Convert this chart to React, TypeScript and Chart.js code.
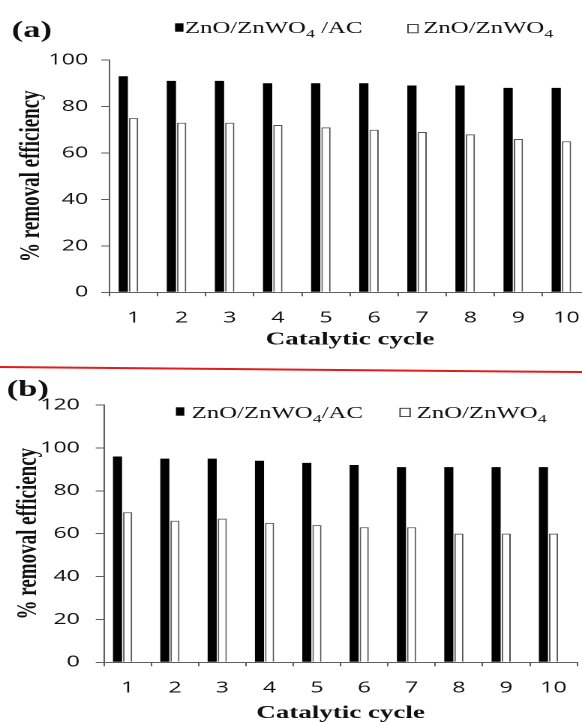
import React, { useEffect, useRef } from 'react';
import { Chart, registerables } from 'chart.js';

Chart.register(...registerables);

// ---- data ----
const cycles = ['1', '2', '3', '4', '5', '6', '7', '8', '9', '10'];
const seriesNamesA = ['ZnO/ZnWO₄ /AC', 'ZnO/ZnWO₄'];
const seriesNamesB = ['ZnO/ZnWO₄/AC', 'ZnO/ZnWO₄'];
const compositeA = [93, 91, 91, 90, 90, 90, 89, 89, 88, 88];
const binaryA = [75, 73, 73, 72, 71, 70, 69, 68, 66, 65];
const compositeB = [96, 95, 95, 94, 93, 92, 91, 91, 91, 91];
const binaryB = [70, 66, 67, 65, 64, 63, 63, 60, 60, 60];
const yMaxA = 100;
const yMaxB = 120;
const yStep = 20;
const xTitle = 'Catalytic cycle';
const yTitle = '% removal efficiency';
const panelLetters = ['(a)', '(b)'];

// the reference figure is stretched horizontally
const STRETCH = 1.5;
const AXIS = '#5e5e5e';
const SERIF = '"Liberation Serif", "Times New Roman", serif';
const SANS = '"Open Sans", "Noto Sans", sans-serif';

type Spec = {
  letter: string;
  names: string[];
  composite: number[];
  binary: number[];
  yMax: number;
  top: number;
  width: number;
  height: number;
  padTop: number;
  padRight: number;
  yWidth: number;
  xHeight: number;
  yTickPad: number;
  yTitlePad: number;
  xTitlePad: number;
  letterX: number;
  letterY: number;
  box1: [number, number, number, number];
  text1: [number, number];
  box2: [number, number, number, number];
  text2: [number, number];
};

function drawLabel(ctx: CanvasRenderingContext2D, text: string, x: number, y: number) {
  const parts = text.split('₄');
  let cx = x;
  parts.forEach((p, i) => {
    ctx.font = `16.5px ${SERIF}`;
    ctx.fillText(p, cx, y);
    cx += ctx.measureText(p).width;
    if (i < parts.length - 1) {
      ctx.font = `12px ${SERIF}`;
      ctx.fillText('4', cx, y + 4.5);
      cx += ctx.measureText('4').width;
    }
  });
}

function Panel({ spec }: { spec: Spec }) {
  const ref = useRef<HTMLCanvasElement | null>(null);
  useEffect(() => {
    if (!ref.current) return;
    const overlay = {
      id: 'overlay',
      afterDraw(chart: any) {
        const ctx: CanvasRenderingContext2D = chart.ctx;
        ctx.save();
        ctx.fillStyle = '#111';
        ctx.textBaseline = 'alphabetic';
        ctx.textAlign = 'left';
        ctx.font = `bold 23px ${SERIF}`;
        ctx.fillText(spec.letter, spec.letterX, spec.letterY);
        // legend
        const [bx, by, bw, bh] = spec.box1;
        ctx.fillStyle = '#000';
        ctx.fillRect(bx, by, bw, bh);
        ctx.fillStyle = '#111';
        drawLabel(ctx, spec.names[0], spec.text1[0], spec.text1[1]);
        const [wx, wy, ww, wh] = spec.box2;
        ctx.fillStyle = '#fff';
        ctx.fillRect(wx, wy, ww, wh);
        ctx.strokeStyle = '#333';
        ctx.lineWidth = 0.9;
        ctx.strokeRect(wx, wy, ww, wh);
        ctx.fillStyle = '#111';
        drawLabel(ctx, spec.names[1], spec.text2[0], spec.text2[1]);
        ctx.restore();
      },
    };
    const chart = new Chart(ref.current, {
      type: 'bar',
      data: {
        labels: cycles,
        datasets: [
          {
            label: spec.names[0],
            data: spec.composite,
            backgroundColor: '#000',
            borderColor: '#000',
            borderWidth: 0,
          },
          {
            label: spec.names[1],
            data: spec.binary,
            backgroundColor: '#fff',
            borderColor: '#555',
            borderWidth: 1,
          },
          {
            label: '',
            data: cycles.map(() => null),
            backgroundColor: 'rgba(0,0,0,0)',
          },
        ],
      },
      plugins: [overlay],
      options: {
        animation: false,
        responsive: true,
        maintainAspectRatio: false,
        devicePixelRatio: 2,
        datasets: { bar: { categoryPercentage: 0.64, barPercentage: 0.9 } },
        layout: { padding: { top: spec.padTop, right: spec.padRight, left: 0, bottom: 0 } },
        plugins: { legend: { display: false }, tooltip: { enabled: false }, title: { display: false } },
        scales: {
          x: {
            type: 'category',
            offset: true,
            afterFit: (s: any) => { s.height = spec.xHeight; },
            grid: { display: true, drawOnChartArea: false, drawTicks: true, tickLength: 4, offset: true, color: AXIS, lineWidth: 1 },
            border: { display: true, color: AXIS, width: 1 },
            ticks: { color: '#111', font: { family: SANS, size: 15.5 }, padding: 12.5, maxRotation: 0, autoSkip: false },
            title: {
              display: true,
              text: xTitle,
              color: '#111',
              font: { family: SERIF, size: 18, weight: 'bold', lineHeight: 1.2 },
              padding: { top: 0, bottom: spec.xTitlePad },
            },
          },
          y: {
            min: 0,
            max: spec.yMax,
            afterFit: (s: any) => { s.width = spec.yWidth; },
            grid: { display: true, drawOnChartArea: false, drawTicks: true, tickLength: 5.5, color: AXIS, lineWidth: 1 },
            border: { display: true, color: AXIS, width: 1 },
            ticks: { stepSize: yStep, color: '#111', font: { family: SANS, size: 15.5 }, padding: spec.yTickPad },
            title: {
              display: true,
              text: yTitle,
              color: '#111',
              font: { family: SERIF, size: 19, weight: 'bold', lineHeight: 1.2 },
              padding: { top: spec.yTitlePad, bottom: 0 },
            },
          },
        },
      } as any,
    });
    return () => chart.destroy();
  }, [spec]);

  return (
    <div
      style={{
        position: 'absolute',
        left: 0,
        top: spec.top,
        width: spec.width,
        height: spec.height,
        transform: `scaleX(${STRETCH})`,
        transformOrigin: '0 0',
      }}
    >
      <canvas ref={ref} />
    </div>
  );
}

const specA: Spec = {
  letter: panelLetters[0],
  names: seriesNamesA,
  composite: compositeA,
  binary: binaryA,
  yMax: yMaxA,
  top: 0,
  width: 404,
  height: 358,
  padTop: 60,
  padRight: 10.3,
  yWidth: 73,
  xHeight: 65.7,
  yTickPad: 8.6,
  yTitlePad: 9.9,
  xTitlePad: 7.3,
  letterX: 7.8,
  letterY: 37,
  box1: [116.7, 23.3, 5.6, 8.4],
  text1: [123.3, 33],
  box2: [272, 24.5, 6.7, 8.3],
  text2: [282.2, 33],
};

const specB: Spec = {
  letter: panelLetters[1],
  names: seriesNamesB,
  composite: compositeB,
  binary: binaryB,
  yMax: yMaxB,
  top: 368,
  width: 395,
  height: 356,
  padTop: 37,
  padRight: 10.2,
  yWidth: 69.3,
  xHeight: 61.7,
  yTickPad: 10.5,
  yTitlePad: 7.9,
  xTitlePad: 0,
  letterX: 4.5,
  letterY: 28,
  box1: [117.3, 39.3, 5.6, 8.4],
  text1: [127.8, 50],
  box2: [266.7, 40.3, 6.7, 8.3],
  text2: [277.8, 50],
};

export default function App() {
  return (
    <div
      style={{
        position: 'absolute',
        left: 0,
        top: 0,
        width: 582,
        height: 722,
        overflow: 'hidden',
        background: '#fff',
      }}
    >
      <Panel spec={specA} />
      <div
        style={{
          position: 'absolute',
          left: 0,
          top: 366,
          width: 584,
          height: 2,
          background: '#e41c1c',
          transform: 'rotate(0.5deg)',
          transformOrigin: '0 50%',
        }}
      />
      <Panel spec={specB} />
    </div>
  );
}
